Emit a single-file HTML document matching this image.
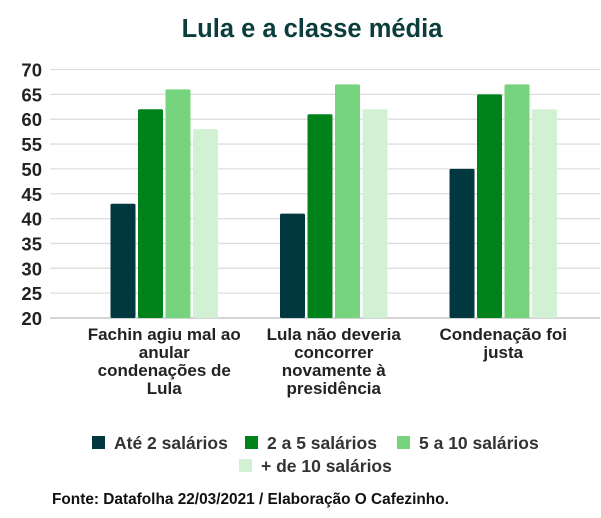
<!DOCTYPE html>
<html><head><meta charset="utf-8"><style>
body{margin:0;background:#fff;width:601px;height:513px;overflow:hidden;font-family:"Liberation Sans",sans-serif}
svg text{font-family:"Liberation Sans",sans-serif}
</style></head><body>
<svg id="chart" width="601" height="513" xmlns="http://www.w3.org/2000/svg">
<text x="312" y="37" text-anchor="middle" font-size="25.5" font-weight="bold" fill="#0b3d3c">Lula e a classe média</text>
<g id="grid"></g><g id="bars"></g><g id="xlabels"></g>
<g font-size="17.5" font-weight="bold" fill="#333">
<g><rect x="92" y="436" width="13" height="13" fill="#01373f"/><text x="114" y="449">Até 2 salários</text></g>
<g><rect x="245" y="436" width="13" height="13" fill="#00821b"/><text x="267" y="449">2 a 5 salários</text></g>
<g><rect x="397" y="436" width="13" height="13" fill="#77d47e"/><text x="419" y="449">5 a 10 salários</text></g>
<g><rect x="239" y="459" width="13" height="13" fill="#d2f0d3"/><text x="261" y="472">+ de 10 salários</text></g>
</g>
<text x="52" y="504" font-size="15.4" font-weight="bold" fill="#111">Fonte: Datafolha 22/03/2021 / Elaboração O Cafezinho.</text>
</svg>
<script>
const categories=[["Fachin agiu mal ao","anular","condenações de","Lula"],["Lula não deveria","concorrer","novamente à","presidência"],["Condenação foi","justa"]];
const seriesNames=["ate-2","2-a-5","5-a-10","mais-10"];
const ate2=[43,41,50];
const de2a5=[62,61,65];
const de5a10=[66,67,67];
const mais10=[58,62,62];
const series=[ate2,de2a5,de5a10,mais10];
const colors=["#01373f","#00821b","#77d47e","#d2f0d3"];
const ticks=[20,25,30,35,40,45,50,55,60,65,70];
const NS="http://www.w3.org/2000/svg";
const y0=318,y1=69.5,vmin=20,vmax=70;
function y(v){return y0-(v-vmin)/(vmax-vmin)*(y0-y1);}
const left=79.5,bandW=169.5,barW=25,gap=2.5;
function xc(i){return left+bandW*(i+0.5);}
const grid=document.getElementById('grid');
ticks.forEach(t=>{
 const l=document.createElementNS(NS,'line');
 
 
 l.setAttribute('x1',50);l.setAttribute('x2',600);l.setAttribute('y1',y(t));l.setAttribute('y2',y(t));
 l.setAttribute('stroke',t===20?'#bbb':'#ddd');l.setAttribute('stroke-width',1.3);
 grid.appendChild(l);
 const tx=document.createElementNS(NS,'text');
 
 
 tx.setAttribute('x',42);tx.setAttribute('y',y(t)+7);tx.setAttribute('text-anchor','end');
 tx.setAttribute('font-size',18.5);tx.setAttribute('font-weight','bold');tx.setAttribute('fill','#222');
 tx.textContent=t;grid.appendChild(tx);
});
const bars=document.getElementById('bars');
categories.forEach((c,i)=>{
 series.forEach((s,j)=>{
  const r=document.createElementNS(NS,'rect');
  
  
  const x=xc(i)-2*barW-1.5*gap+j*(barW+gap);
  r.setAttribute('x',x);r.setAttribute('y',y(s[i]));r.setAttribute('width',barW);r.setAttribute('height',y0-y(s[i]));
  r.setAttribute('rx',1.5);r.setAttribute('fill',colors[j]);
  bars.appendChild(r);
 });
 const t=document.createElementNS(NS,'text');
 
 
 t.setAttribute('text-anchor','middle');t.setAttribute('font-size',17);t.setAttribute('font-weight','bold');t.setAttribute('fill','#222');
 c.forEach((line,k)=>{
  const ts=document.createElementNS(NS,'tspan');
  ts.setAttribute('x',xc(i));ts.setAttribute('y',340+k*18);ts.textContent=line;t.appendChild(ts);
 });
 document.getElementById('xlabels').appendChild(t);
});
</script>
</body></html>
